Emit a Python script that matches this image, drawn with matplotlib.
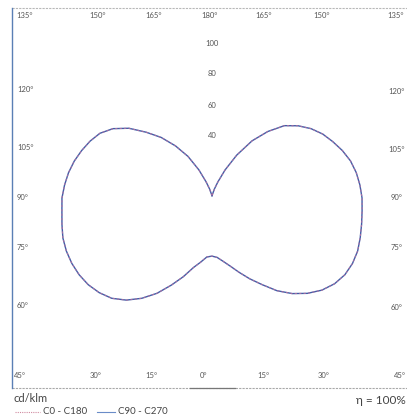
import numpy as np
import matplotlib
matplotlib.use("Agg")
import matplotlib.pyplot as plt

# ---- data (cd/klm), gamma angle from nadir in degrees ----
gamma = [0, 5, 10, 15, 20, 25, 30, 35, 40, 45, 50, 55, 60, 65, 70, 75, 80, 85, 90,
         95, 100, 105, 110, 115, 120, 125, 130, 135, 140, 145, 150, 155, 160, 165, 170, 175, 180]
# right half (C0 / C90)
right_I = [37.5, 38.5, 41.5, 45.5, 51, 57.5, 64.5, 73, 80.5, 87, 92.5, 96.5, 99, 100, 100, 99, 98, 97.2, 96.8,
           95.8, 94.5, 92.5, 89.5, 86, 82.5, 78, 72.5, 66, 56, 45, 32, 20, 11, 6, 3, 2, 1.5]
# left half (C180 / C270)
left_I = [37.5, 38.2, 42, 46.5, 54, 62, 71, 79, 86, 91.5, 95, 97.5, 99, 99.8, 100, 99.6, 98.3, 97.2, 96.8,
          95.5, 94, 92, 89.5, 86.8, 83.5, 78, 70, 60, 51, 41, 31, 20, 11, 6, 3, 2, 1.5]
c0_c180 = (right_I, left_I)
c90_c270 = (right_I, left_I)

radial_ticks = [40, 60, 80, 100]
top_labels = ["135°", "150°", "165°", "180°", "165°", "150°", "135°"]
side_labels = ["120°", "105°", "90°", "75°", "60°"]
bottom_labels = ["45°", "30°", "15°", "0°", "15°", "30°", "45°"]

# ---- layout (pixels) ----
W, H = 407, 418
cx, cy = 212, 198
R = 120.0            # data units at axes edge
Rpx = 186.0          # pixels for R

fig = plt.figure(figsize=(W / 100, H / 100), dpi=100)
fig.patch.set_facecolor("white")

bg = fig.add_axes([0, 0, 1, 1])
bg.set_xlim(0, W)
bg.set_ylim(H, 0)
bg.axis("off")

txt_col = "#555555"
fam = ["Lato", "DejaVu Sans"]

# frame
bg.plot([12, 407], [8, 8], color="#b8b8b8", lw=0.8, ls=(0, (2, 1)))
bg.plot([12, 407], [388, 388], color="#a8a8a8", lw=0.8, ls=(0, (2, 1)))
bg.plot([190, 235], [388, 388], color="#777777", lw=0.9)
bg.plot([12, 12], [8, 388], color="#5a7fb5", lw=1.0)

top_x = [25, 98, 154, 210, 264, 322, 396]
for s, x in zip(top_labels, top_x):
    bg.text(x, 16, s, ha="center", va="center", fontsize=5.5, color=txt_col, family=fam)
bot_x = [20, 96, 151, 203, 263, 324, 400]
for s, x in zip(bottom_labels, bot_x):
    bg.text(x, 375, s, ha="center", va="center", fontsize=5.5, color=txt_col, family=fam)
left_y = [90, 148, 198, 248, 306]
right_y = [91, 149, 198, 248, 307]
for s, yl, yr in zip(side_labels, left_y, right_y):
    bg.text(17, yl, s, ha="left", va="center", fontsize=5.5, color=txt_col, family=fam)
    bg.text(397, yr, s, ha="center", va="center", fontsize=5.5, color=txt_col, family=fam)

bg.text(14, 399, "cd/klm", ha="left", va="center", fontsize=8, color="#444444", family=fam)
bg.text(406, 400, "η = 100%", ha="right", va="center", fontsize=8.5, color="#444444", family=fam)
bg.plot([15, 40], [412, 412], color="#d08aa0", lw=0.8, ls=(0, (1, 1)))
bg.text(43, 412, "C0 - C180", ha="left", va="center", fontsize=7, color="#444444", family=fam)
bg.plot([97, 115], [412, 412], color="#6a8cc8", lw=0.8)
bg.text(118, 412, "C90 - C270", ha="left", va="center", fontsize=7, color="#444444", family=fam)

# ---- polar axes ----
left = (cx - Rpx) / W
bottom = (H - cy - Rpx) / H
ax = fig.add_axes([left, bottom, 2 * Rpx / W, 2 * Rpx / H], projection="polar")
ax.set_theta_zero_location("S")
ax.set_theta_direction(1)
ax.set_ylim(0, R)
ax.patch.set_alpha(0)
ax.axis("off")

g = np.deg2rad(np.array(gamma, dtype=float))

def full_curve(pair):
    r_right, l_left = pair
    th = np.concatenate([-g[::-1], g])
    rr = np.concatenate([np.array(l_left)[::-1], np.array(r_right)])
    return th, rr

th, rr = full_curve(c90_c270)
ax.plot(th, rr, color="#3f5fa8", lw=1.0, solid_joinstyle="round")
th, rr = full_curve(c0_c180)
ax.plot(th, rr, color="#c070a0", lw=0.8, ls=(0, (2, 2)), alpha=0.8)

for r in radial_ticks:
    ax.text(np.pi, r, str(r), ha="center", va="center", fontsize=5.5, color=txt_col, family=fam)

fig.savefig("out.png", dpi=100, facecolor="white")
